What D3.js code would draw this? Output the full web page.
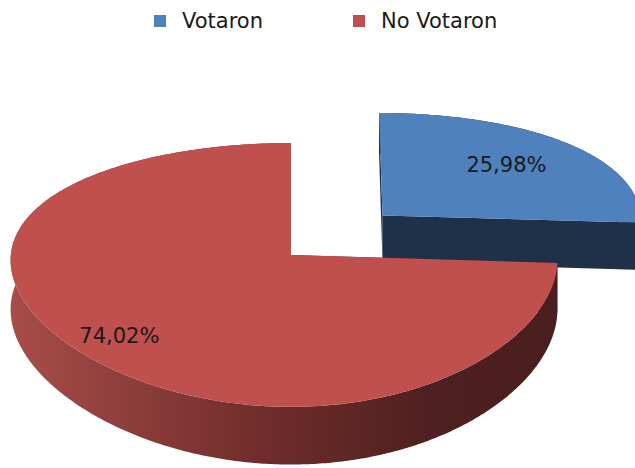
<!DOCTYPE html>
<html>
<head>
<meta charset="utf-8">
<script src="https://cdn.jsdelivr.net/npm/d3@7"></script>
<style>
  body { margin: 0; background: #fff; }
  svg { display: block; font-family: "DejaVu Sans", Verdana, sans-serif; }
</style>
</head>
<body>
<svg id="chart" width="635" height="468"></svg>
<script>
// data
const categories = ["Votaron", "No Votaron"];
const values = [25.98, 74.02];
const valueLabels = ["25,98%", "74,02%"];

const topColors = ["#4f81bd", "#c0504d"];
const wallColors = ["#1f3049", "#5a2523"];
const explode = [0.47, 0]; // in pie radii
const labelRadius = [0.67, 0.83];

const svg = d3.select("#chart"),
  width = 635,
  height = 468;

// fake 3d projection: u right, v towards viewer, h = depth below top face
const CX = 291, CY = 255, R = 273, A = 128.9, K = 0.151, KX = 0.04, KU = 0.0256, H = 49;
function proj(u, v, h) {
  const p = 1 / (1 - K * v);
  const px = 1 / (1 - KX * v + KU * u);
  return [CX + R * u * px, CY + A * v * p + h * p];
}

const pie = d3.pie().sort(null).value((d) => d);
const arcs = pie(values);

const defs = svg.append("defs");
const grad = defs.append("linearGradient")
  .attr("id", "redSide")
  .attr("gradientUnits", "userSpaceOnUse")
  .attr("x1", 10).attr("x2", 570).attr("y1", 0).attr("y2", 0);
grad.append("stop").attr("offset", "0%").attr("stop-color", "#a84d49");
grad.append("stop").attr("offset", "45%").attr("stop-color", "#702d2b");
grad.append("stop").attr("offset", "75%").attr("stop-color", "#4e201f");
grad.append("stop").attr("offset", "100%").attr("stop-color", "#4a1e1e");

const line = d3.line();

function rim(a0, a1, ou, ov, h) {
  const n = Math.max(2, Math.ceil((a1 - a0) / 0.01));
  return d3.range(n + 1).map((i) => {
    const a = a0 + (a1 - a0) * i / n;
    return proj(ou + Math.sin(a), ov - Math.cos(a), h);
  });
}

const g = svg.append("g");

arcs.forEach((d, i) => {
  const mid = (d.startAngle + d.endAngle) / 2;
  const ou = explode[i] * Math.sin(mid), ov = -explode[i] * Math.cos(mid);
  const sideFill = i === 1 ? "url(#redSide)" : wallColors[i];

  // radial walls
  [d.startAngle, d.endAngle].forEach((a) => {
    const ru = ou + Math.sin(a), rv = ov - Math.cos(a);
    g.append("path")
      .attr("d", line([proj(ou, ov, 0), proj(ru, rv, 0), proj(ru, rv, H), proj(ou, ov, H)]) + "Z")
      .attr("fill", wallColors[i]);
  });

  // outer side
  const topRim = rim(d.startAngle, d.endAngle, ou, ov, 0);
  const botRim = rim(d.startAngle, d.endAngle, ou, ov, H).reverse();
  g.append("path")
    .attr("d", line(topRim.concat(botRim)) + "Z")
    .attr("fill", sideFill);

  // top face
  g.append("path")
    .attr("d", line([proj(ou, ov, 0)].concat(topRim)) + "Z")
    .attr("fill", topColors[i]);

  // label
  const lr = labelRadius[i];
  const [lx, ly] = proj(ou + lr * Math.sin(mid), ov - lr * Math.cos(mid), 0);
  g.append("text")
    .attr("x", lx)
    .attr("y", ly)
    .attr("dy", "0.35em")
    .attr("text-anchor", "middle")
    .attr("font-size", 21)
    .attr("fill", "#1a1a1a")
    .text(valueLabels[i]);
});

// legend
const legendX = [154, 353];
const legend = svg.append("g")
  .selectAll("g")
  .data(categories)
  .join("g")
  .attr("transform", (d, i) => `translate(${legendX[i]},15)`);
legend.append("rect")
  .attr("width", 12).attr("height", 12)
  .attr("fill", (d, i) => topColors[i]);
legend.append("text")
  .attr("x", 28).attr("y", 13)
  .attr("font-size", 21)
  .attr("fill", "#1a1a1a")
  .text((d) => d);
</script>
</body>
</html>
